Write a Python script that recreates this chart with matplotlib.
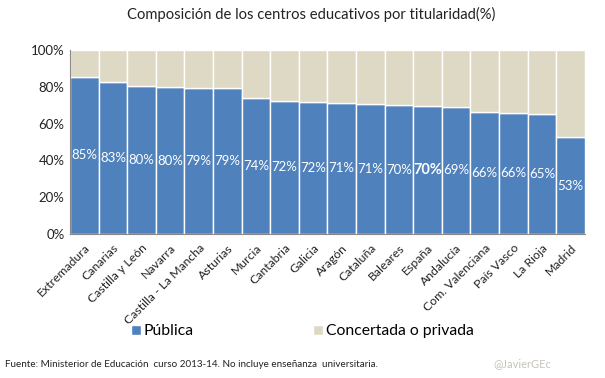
import matplotlib.pyplot as plt
import numpy as np

plt.rcParams['font.family'] = ['Lato', 'DejaVu Sans']

# datos: % de centros públicos por comunidad
regiones = ['Extremadura', 'Canarias', 'Castilla y León', 'Navarra',
            'Castilla - La Mancha', 'Asturias', 'Murcia', 'Cantabria',
            'Galicia', 'Aragón', 'Cataluña', 'Baleares', 'España',
            'Andalucía', 'Com. Valenciana', 'País Vasco', 'La Rioja', 'Madrid']
publica = [85.4, 82.8, 80.2, 79.6, 79.4, 79.3, 74.1, 72.3, 71.8, 71.2,
           70.8, 69.8, 69.7, 69.1, 66.0, 65.9, 65.3, 52.6]
privada = [100 - v for v in publica]

azul = '#4F81BD'
beige = '#DDD9C4'

fig = plt.figure(figsize=(6.05, 3.78), dpi=100)
ax = fig.add_axes([0.1157, 0.381, 0.851, 0.487])

x = np.arange(len(regiones))
ax.bar(x, publica, width=1.0, color=azul, edgecolor='white', linewidth=1, label='Pública')
ax.bar(x, privada, bottom=publica, width=1.0, color=beige, edgecolor='white',
       linewidth=1, label='Concertada o privada')

for i, v in enumerate(publica):
    peso = 'bold' if regiones[i] == 'España' else 'normal'
    tam = 10.5 if regiones[i] == 'España' else 9.5
    ax.text(i, v / 2, f'{round(v)}%', ha='center', va='center', color='white',
            fontsize=tam, fontweight=peso)

ax.set_xlim(-0.5, len(regiones) - 0.5)
ax.set_ylim(0, 100)
ax.set_yticks(range(0, 101, 20))
ax.set_yticklabels([f'{t}%' for t in range(0, 101, 20)], fontsize=9.5, color='#222222')
ax.set_xticks(x)
ax.set_xticklabels(regiones, rotation=45, ha='right', rotation_mode='anchor',
                   fontsize=8.8, color='#222222')
ax.tick_params(length=0, pad=4)
ax.tick_params(axis='x', pad=6)
for s in ['top', 'right']:
    ax.spines[s].set_visible(False)
for s in ['left', 'bottom']:
    ax.spines[s].set_color('#888888')

fig.text(0.514, 0.962, 'Composición de los centros educativos por titularidad(%)',
         ha='center', va='center', fontsize=10.6, color='#222222')

h, l = ax.get_legend_handles_labels()
fig.legend(h, l, loc='center', bbox_to_anchor=(0.5, 0.124), ncol=2, frameon=False,
           fontsize=11.3, handlelength=0.6, handleheight=0.6, handletextpad=0.2,
           columnspacing=7.6)

fig.text(0.008, 0.037, 'Fuente: Ministerior de Educación  curso 2013-14. No incluye enseñanza  universitaria.',
         fontsize=7.1, color='#222222', va='center')
fig.text(0.816, 0.037, '@JavierGEc', fontsize=8, color='#C8C4B8', va='center')

fig.savefig('out.png', dpi=100)
